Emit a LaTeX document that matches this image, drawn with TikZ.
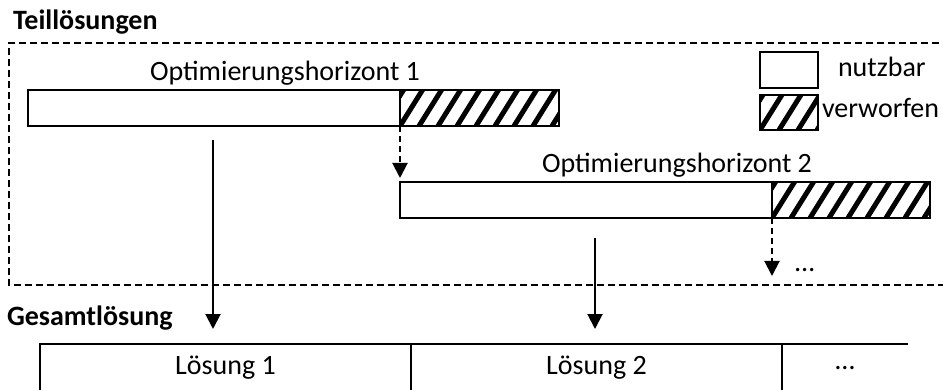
\documentclass[tikz,border=0pt]{standalone}
\usepackage{fontspec}
\setmainfont{Carlito}
\usetikzlibrary{arrows.meta}
\begin{document}
\begin{tikzpicture}[x=1pt,y=-1pt,
  every node/.style={inner sep=0pt, outer sep=0pt},
  lbl/.style={font=\fontsize{28}{34}\selectfont},
  head/.style={font=\bfseries\fontsize{28}{34}\selectfont},
  seg/.style={draw, line width=2pt, fill=white, minimum height=36pt, anchor=north west},
  hatchfill/.style={path picture={
    \foreach \k in {-4,...,10}{
      \draw[line width=5pt] ([xshift={\k*19pt}]path picture bounding box.south west) -- ++(58:70pt);
    }}},
  flow/.style={line width=2pt, -{Triangle[width=15pt,length=15pt]}},
  carry/.style={flow, dash pattern=on 6pt off 4pt},
  frame/.style={line width=2pt, dash pattern=on 7pt off 4pt},
  cell/.style={draw, line width=2.5pt, minimum height=48pt, anchor=north west, lbl},
]
\useasboundingbox (0,0) rectangle (943,390);

% upper panel: partial solutions
\node[head, anchor=base west] (tTeil) at (13,30) {Teillösungen};
\draw[frame] (950,43) -- (9,43) -- (9,285) -- (950,285);

% horizon 1
\node[lbl, anchor=base west] (o1) at (150,81) {Optimierungshorizont 1};
\node[seg, minimum width=372pt] (u1) at (28,90) {};
\node[seg, hatchfill, minimum width=159pt] (h1) at (400,90) {};

% horizon 2
\node[lbl, anchor=base west] (o2) at (542,173) {Optimierungshorizont 2};
\node[seg, minimum width=372pt] (u2) at (400,182) {};
\node[seg, hatchfill, minimum width=158pt] (h2) at (772,182) {};

% legend
\node[seg, minimum width=58pt] (ln) at (760,52) {};
\node[seg, hatchfill, minimum width=58pt, minimum height=35pt] (lv) at (760,95) {};
\node[lbl, anchor=base west] (tn) at (838,77) {nutzbar};
\node[lbl, anchor=base west] (tv) at (822,118) {verworfen};

% carry-over arrows
\draw[carry, shorten >=4pt] (h1.south west) -- (u2.north west);
\coordinate (e3) at (772,276);
\draw[carry] (h2.south west) -- (e3);
\node[lbl, anchor=base west] (dots1) at (795,272) {…};

% lower panel: overall solution
\node[head, anchor=base west] (tGes) at (7,325) {Gesamtlösung};
\node[cell, minimum width=371pt] (r1) at (40,344) {Lösung 1};
\node[cell, minimum width=371pt] (r2) at (411,344) {Lösung 2};
\node[lbl, minimum width=126pt, minimum height=48pt, anchor=north west] (r3) at (782,344) {…};
\draw[line width=2.5pt] (r2.north east) -- (r3.north east);

% transfer arrows
\coordinate (s1) at (213,140);
\coordinate (e1) at (213,329);
\draw[flow] (s1) -- (e1);
\coordinate (s2) at (595,238);
\coordinate (e2) at (595,329);
\draw[flow] (s2) -- (e2);
\end{tikzpicture}
\end{document}
